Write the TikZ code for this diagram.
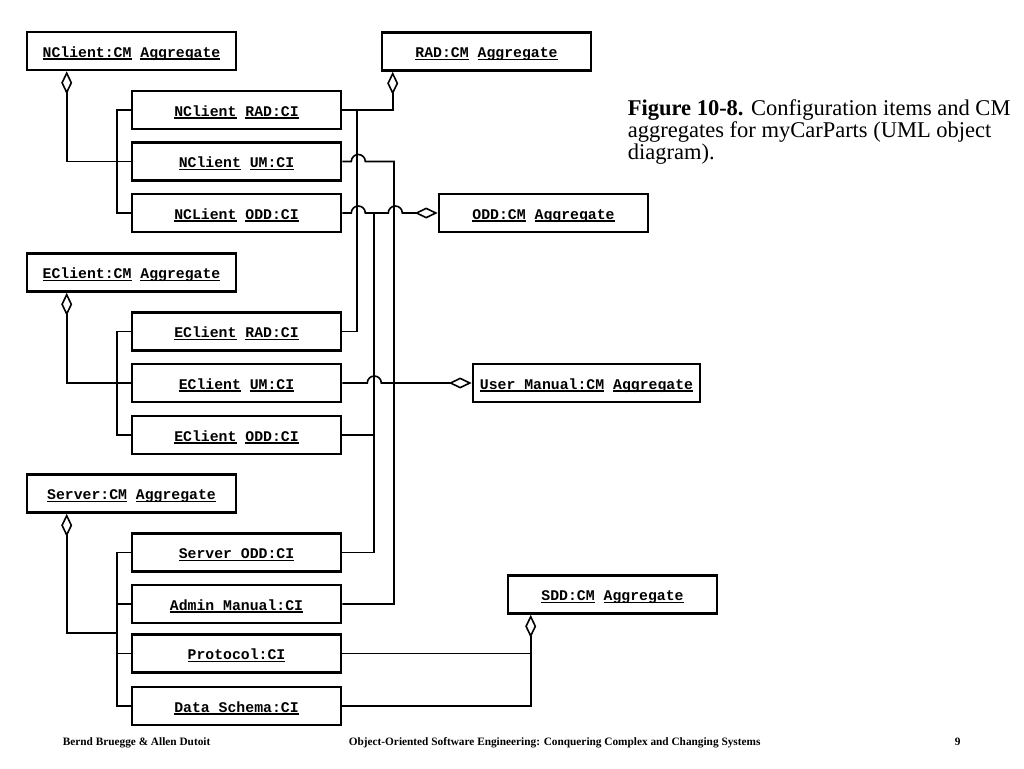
\documentclass[tikz,border=0pt]{standalone}
\usepackage{fontspec}
\setmainfont{Liberation Serif}
\setmonofont{Liberation Mono}
\usetikzlibrary{arrows.meta}

\newsavebox{\ulbox}
\newcommand{\undl}[1]{\sbox{\ulbox}{#1}\rlap{\rule[-2.6pt]{\wd\ulbox}{1.3pt}}\usebox{\ulbox}}

\begin{document}
\begin{tikzpicture}[x=1pt,y=-1pt,line width=1.6pt,
  cibox/.style={draw,line width=2.6pt,minimum width=209pt,minimum height=38pt,
    inner sep=0pt,text height=12pt,text depth=0pt,
    font=\ttfamily\bfseries\fontsize{14.8}{16}\selectfont},
  agg/.style={-{Diamond[open,length=23pt,width=11pt]}},
  hop/.style={insert path={arc[start angle=180,end angle=0,radius=7pt]}},
  caption/.style={anchor=base west,inner sep=0pt,font=\fontsize{22.5}{26}\selectfont},
  footer/.style={anchor=base west,inner sep=0pt,font=\bfseries\fontsize{11.3}{13}\selectfont}]
  \useasboundingbox[fill=white] (0,0) rectangle (1024,768);

  % NClient
  \node[cibox] (NClientAgg) at (131.5,51) {\undl{NClient:CM} \undl{Aggregate}};
  \node[cibox] (NClientRAD) at (236.5,110) {\undl{NClient} \undl{RAD:CI}};
  \node[cibox] (NClientUM) at (236.5,161.5) {\undl{NClient} \undl{UM:CI}};
  \node[cibox] (NClientODD) at (236.5,213) {\undl{NCLient} \undl{ODD:CI}};

  % EClient
  \node[cibox] (EClientAgg) at (131.5,272.5) {\undl{EClient:CM} \undl{Aggregate}};
  \node[cibox] (EClientRAD) at (236.5,331.5) {\undl{EClient} \undl{RAD:CI}};
  \node[cibox] (EClientUM) at (236.5,383) {\undl{EClient} \undl{UM:CI}};
  \node[cibox] (EClientODD) at (236.5,435) {\undl{EClient} \undl{ODD:CI}};

  % Server
  \node[cibox] (ServerAgg) at (131.5,493.5) {\undl{Server:CM} \undl{Aggregate}};
  \node[cibox] (ServerODD) at (236.5,552.5) {\undl{Server ODD:CI}};
  \node[cibox] (AdminManual) at (236.5,604) {\undl{Admin Manual:CI}};
  \node[cibox] (Protocol) at (236.5,653.5) {\undl{Protocol:CI}};
  \node[cibox] (DataSchema) at (236.5,706) {\undl{Data Schema:CI}};

  % document aggregates
  \node[cibox] (RADAgg) at (486.5,51.5) {\undl{RAD:CM} \undl{Aggregate}};
  \node[cibox] (ODDAgg) at (543.5,213) {\undl{ODD:CM} \undl{Aggregate}};
  \node[cibox,minimum width=227pt] (UMAgg) at (586.5,383) {\undl{User Manual:CM} \undl{Aggregate}};
  \node[cibox] (SDDAgg) at (612.5,594.5) {\undl{SDD:CM} \undl{Aggregate}};

  \coordinate (NClientFoot) at ([xshift=41pt]NClientAgg.south west);
  \coordinate (EClientFoot) at ([xshift=41pt]EClientAgg.south west);
  \coordinate (ServerFoot) at ([xshift=41pt]ServerAgg.south west);
  \coordinate (ServerJoin) at ([xshift=-14pt]Protocol.north west);
  \coordinate (RADFoot) at ([xshift=12pt]RADAgg.south west);
  \coordinate (SDDFoot) at ([xshift=24pt]SDDAgg.south west);
  \coordinate (RADBus) at (357,0);
  \coordinate (ODDBus) at (374,0);
  \coordinate (UMBus) at (394,0);

  % subsystem aggregates
  \draw (NClientRAD.west) -- ++(-14,0) |- (NClientODD.west);
  \draw[agg] (NClientUM.west) -| (NClientFoot);
  \draw (EClientRAD.west) -- ++(-14,0) |- (EClientODD.west);
  \draw[agg] (EClientUM.west) -| (EClientFoot);
  \draw (ServerODD.west) -- ++(-14,0) |- (DataSchema.west);
  \draw (AdminManual.west) -- ++(-14,0);
  \draw (Protocol.west) -- ++(-14,0);
  \draw[agg] (ServerJoin) -| (ServerFoot);

  % RAD
  \draw[agg] (NClientRAD.east) -| (RADFoot);
  \draw (EClientRAD.east) -| (NClientRAD.east -| RADBus);

  % User Manual
  \draw (NClientUM.east) -- ++(9,0) [hop] -- (NClientUM.east -| UMBus)
    -- (AdminManual.east -| UMBus) -- (AdminManual.east);
  \draw[agg] (EClientUM.east) -- ++(25,0) [hop] -- (UMAgg.west);

  % ODD
  \draw[agg] (NClientODD.east) -- ++(9,0) [hop] -- ++(23,0) [hop] -- (ODDAgg.west);
  \draw (NClientODD.east -| ODDBus) -- (ServerODD.east -| ODDBus) -- (ServerODD.east);
  \draw (EClientODD.east) -- (EClientODD.east -| ODDBus);

  % SDD
  \draw[agg] (DataSchema.east) -| (SDDFoot);
  \draw (Protocol.east) -- (Protocol.east -| SDDFoot);

  % caption
  \node[caption] (CaptionA) at (627,115) {\textbf{Figure 10-8.} Configuration items and CM};
  \node[caption] (CaptionB) at (627,137) {aggregates for myCarParts (UML object};
  \node[caption] (CaptionC) at (627,159) {diagram).};

  % footer
  \node[footer] (FooterA) at (62,745) {Bernd Bruegge \& Allen Dutoit};
  \node[footer] (FooterB) at (348,745) {Object-Oriented Software Engineering: Conquering Complex and Changing Systems};
  \node[footer] (FooterC) at (954,745) {9};
\end{tikzpicture}
\end{document}
